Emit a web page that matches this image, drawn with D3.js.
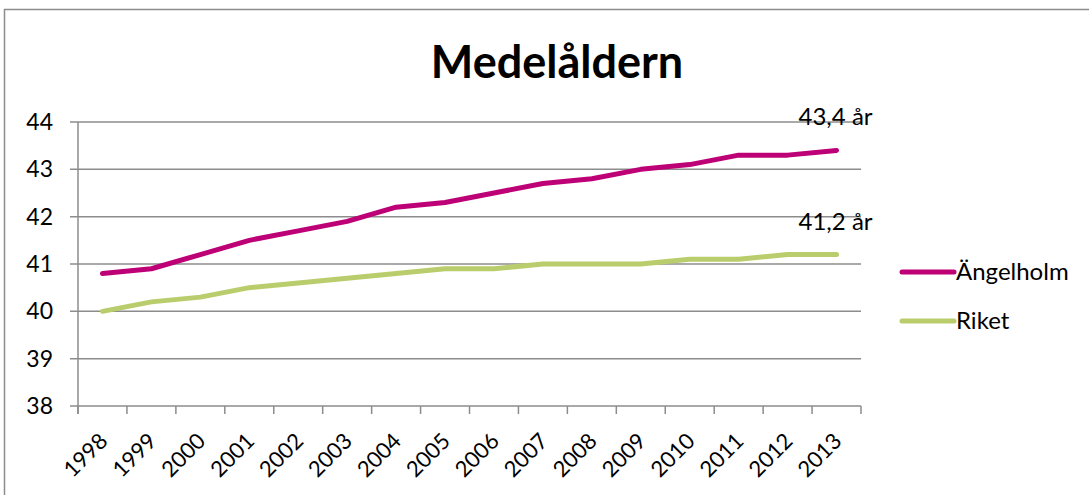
<!DOCTYPE html>
<html>
<head>
<meta charset="utf-8">
<script src="https://cdn.jsdelivr.net/npm/d3@7"></script>
<style>
  body { margin: 0; background: #fff; }
  text { font-family: Lato, "Open Sans", sans-serif; fill: #000; }
</style>
</head>
<body>
<svg id="chart"></svg>
<script>
var width = 1089, height = 495;

var years = ["1998","1999","2000","2001","2002","2003","2004","2005",
             "2006","2007","2008","2009","2010","2011","2012","2013"];
var angelholm = [40.8, 40.9, 41.2, 41.5, 41.7, 41.9, 42.2, 42.3,
                 42.5, 42.7, 42.8, 43.0, 43.1, 43.3, 43.3, 43.4];
var riket = [40.0, 40.2, 40.3, 40.5, 40.6, 40.7, 40.8, 40.9,
             40.9, 41.0, 41.0, 41.0, 41.1, 41.1, 41.2, 41.2];
var yTicks = [38, 39, 40, 41, 42, 43, 44];
var seriesNames = ["Ängelholm", "Riket"];
var endLabels = ["43,4 år", "41,2 år"];

var colors = ["#BE0077", "#B9CD6C"];

var svg = d3.select("#chart")
    .attr("width", width)
    .attr("height", height);

// chart frame
svg.append("rect")
    .attr("x", 4.5).attr("y", 9.5)
    .attr("width", 1100).attr("height", 500)
    .attr("fill", "none")
    .attr("stroke", "#8c8c8c")
    .attr("stroke-width", 1.5);

var plot = {left: 78, right: 861, top: 122, bottom: 406};

var x = d3.scaleBand()
    .domain(years)
    .range([plot.left, plot.right]);

var y = d3.scaleLinear()
    .domain([38, 44])
    .range([plot.bottom, plot.top]);

// gridlines
svg.append("g")
    .selectAll("line")
    .data(yTicks)
    .enter().append("line")
        .attr("x1", plot.left - 8)
        .attr("x2", plot.right)
        .attr("y1", d => y(d))
        .attr("y2", d => y(d))
        .attr("stroke", "#8c8c8c")
        .attr("stroke-width", 1.5);

// y axis line
svg.append("line")
    .attr("x1", plot.left).attr("x2", plot.left)
    .attr("y1", plot.top).attr("y2", plot.bottom + 8)
    .attr("stroke", "#8c8c8c")
    .attr("stroke-width", 1.5);

// y tick labels
svg.append("g")
    .selectAll("text")
    .data(yTicks)
    .enter().append("text")
        .attr("x", 53)
        .attr("y", d => y(d) + 8)
        .attr("text-anchor", "end")
        .style("font-size", "23px")
        .text(d => d);

// x ticks
var xTickPos = years.map(d => x(d)).concat([plot.right]);
svg.append("g")
    .selectAll("line")
    .data(xTickPos)
    .enter().append("line")
        .attr("x1", d => d).attr("x2", d => d)
        .attr("y1", plot.bottom).attr("y2", plot.bottom + 8)
        .attr("stroke", "#8c8c8c")
        .attr("stroke-width", 1.5);

// x labels, rotated
svg.append("g")
    .selectAll("text")
    .data(years)
    .enter().append("text")
        .attr("transform", d => "translate(" + (x(d) + x.bandwidth() / 2 + 1) + "," + (plot.bottom + 31) + ") rotate(-45)")
        .attr("text-anchor", "end")
        .attr("dy", "0.35em")
        .style("font-size", "22px")
        .text(d => d);

// lines
var line = d3.line()
    .x((d, i) => x(years[i]) + x.bandwidth() / 2)
    .y(d => y(d));

[angelholm, riket].forEach(function(s, i) {
    svg.append("path")
        .datum(s)
        .attr("d", line)
        .attr("fill", "none")
        .attr("stroke", colors[i])
        .attr("stroke-width", 5)
        .attr("stroke-linecap", "round")
        .attr("stroke-linejoin", "round");
});

// end value labels
[angelholm, riket].forEach(function(s, i) {
    var last = s[s.length - 1];
    svg.append("text")
        .attr("x", x(years[years.length - 1]) + x.bandwidth() / 2 - 38)
        .attr("y", y(last) - 25)
        .style("font-size", "24px")
        .text(endLabels[i]);
});

// title
svg.append("text")
    .attr("x", 557)
    .attr("y", 78)
    .attr("text-anchor", "middle")
    .style("font-size", "45px")
    .style("font-weight", "bold")
    .text("Medelåldern");

// legend
var legend = svg.append("g")
    .selectAll("g")
    .data(seriesNames)
    .enter().append("g")
        .attr("transform", (d, i) => "translate(900," + (272 + i * 49) + ")");

legend.append("line")
    .attr("x1", 2).attr("x2", 54)
    .attr("stroke", (d, i) => colors[i])
    .attr("stroke-width", 5)
    .attr("stroke-linecap", "round");

legend.append("text")
    .attr("x", 56)
    .attr("y", 8)
    .style("font-size", "24px")
    .text(d => d);
</script>
</body>
</html>
